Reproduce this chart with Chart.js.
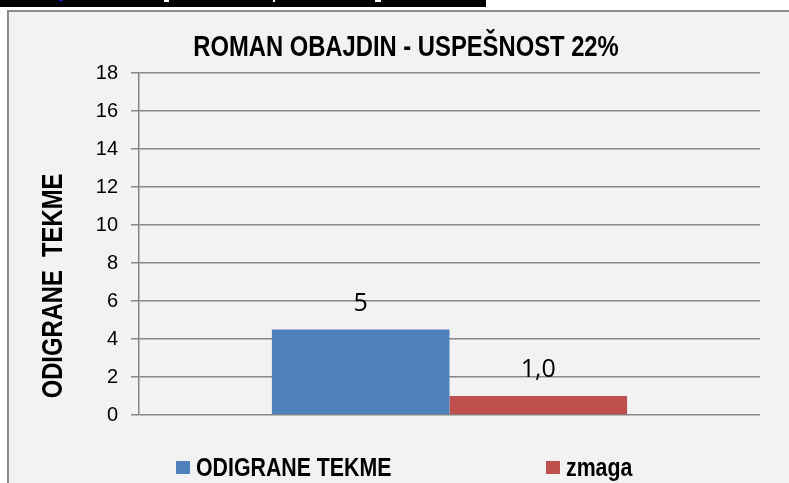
<!DOCTYPE html>
<html>
<head>
<meta charset="utf-8">
<script src="https://cdn.jsdelivr.net/npm/chart.js@4/dist/chart.umd.min.js"></script>
<style>
  html, body { margin: 0; padding: 0; background: #ffffff; overflow: hidden; }
  #wrap { position: relative; width: 789px; height: 483px; }
  #c { position: absolute; left: 0; top: 0; }
  .topbar { position: absolute; left: 0; top: 0; width: 486px; height: 7px; background: #000; }
  .gap { position: absolute; top: 0; height: 2px; background: #fff; }
  .blue { position: absolute; left: 59px; top: 0; width: 4px; height: 1px; background: #1a1aff; }
</style>
</head>
<body>
<div id="wrap">
  <canvas id="c" width="789" height="483"></canvas>
  <div class="topbar"></div>
  <div class="gap" style="left:164px;width:5px"></div>
  <div class="gap" style="left:273px;width:2px"></div>
  <div class="gap" style="left:375px;width:6px"></div>
  <div class="blue"></div>
</div>
<script>
// ---- data ----
const categories = [""];
const seriesNames = ["ODIGRANE TEKME", "zmaga"];
const playedValues = [4.5];
const winValues = [1.0];
const labelDecimals = [0, 1];
const yTicks = [0, 2, 4, 6, 8, 10, 12, 14, 16, 18];
const chartTitle = "ROMAN OBAJDIN - USPEŠNOST 22%";
const yAxisTitle = "ODIGRANE  TEKME";
const seriesColors = ["#4f81bd", "#c0504d"];

const SANS = "'Liberation Sans', Arial, sans-serif";
const NARROW = 0.82;   // horizontal squeeze to imitate a narrow face
const GRID = "#868686";

function narrowText(ctx, text, x, y, font, align, rot) {
  ctx.save();
  ctx.translate(x, y);
  if (rot) ctx.rotate(rot);
  ctx.scale(NARROW, 1);
  ctx.font = font;
  ctx.fillStyle = '#000';
  ctx.textAlign = align;
  ctx.textBaseline = 'alphabetic';
  ctx.fillText(text, 0, 0);
  ctx.restore();
}

const framePlugin = {
  id: 'frame',
  beforeDraw(chart) {
    const ctx = chart.ctx;
    ctx.save();
    ctx.fillStyle = '#ffffff';
    ctx.fillRect(0, 0, chart.width, chart.height);
    ctx.fillStyle = '#f2f2f2';
    ctx.fillRect(8, 11, chart.width - 8, chart.height - 11);
    ctx.strokeStyle = '#8a8a8a';
    ctx.lineWidth = 2;
    ctx.beginPath();
    ctx.moveTo(8, chart.height);
    ctx.lineTo(8, 11);
    ctx.lineTo(chart.width, 11);
    ctx.stroke();
    ctx.restore();
  }
};

const textPlugin = {
  id: 'texts',
  afterDraw(chart) {
    const ctx = chart.ctx;
    // chart title
    narrowText(ctx, chartTitle, 406, 56, "bold 29px " + SANS, 'center', 0);
    // y axis title
    narrowText(ctx, yAxisTitle, 62, 286, "bold 29px " + SANS, 'center', -Math.PI / 2);
    // legend
    const legX = [176, 546];
    seriesNames.forEach((name, i) => {
      ctx.save();
      ctx.fillStyle = seriesColors[i];
      ctx.fillRect(legX[i], 461, 14, 13);
      ctx.restore();
      narrowText(ctx, name, legX[i] + 20, 476, "bold 26px " + SANS, 'left', 0);
    });
  }
};

const valueLabelPlugin = {
  id: 'valueLabels',
  afterDatasetsDraw(chart) {
    const ctx = chart.ctx;
    ctx.save();
    ctx.font = "25px 'Open Sans', 'Noto Sans', sans-serif";
    ctx.fillStyle = '#000';
    ctx.textAlign = 'center';
    ctx.textBaseline = 'alphabetic';
    chart.data.datasets.forEach((ds, i) => {
      const meta = chart.getDatasetMeta(i);
      meta.data.forEach((bar, j) => {
        const txt = ds.data[j].toFixed(labelDecimals[i]).replace('.', ',');
        ctx.fillText(txt, bar.x, bar.y - 19);
      });
    });
    ctx.restore();
  }
};

const chart = new Chart(document.getElementById('c'), {
  type: 'bar',
  data: {
    labels: categories,
    datasets: [
      { label: seriesNames[0], data: playedValues, backgroundColor: seriesColors[0], borderWidth: 0 },
      { label: seriesNames[1], data: winValues, backgroundColor: seriesColors[1], borderWidth: 0 }
    ]
  },
  options: {
    responsive: false,
    animation: false,
    devicePixelRatio: 1,
    layout: { padding: { left: 52, right: 29, top: 73, bottom: 68 } },
    datasets: { bar: { categoryPercentage: 0.572, barPercentage: 1.0 } },
    plugins: {
      legend: { display: false },
      tooltip: { enabled: false },
      title: { display: false }
    },
    scales: {
      x: { display: false },
      y: {
        min: 0, max: 18,
        afterBuildTicks(scale) { scale.ticks = yTicks.map(v => ({ value: v })); },
        afterFit(scale) { scale.width = 87; },
        ticks: { color: '#000', padding: 13, font: { family: SANS, size: 20 } },
        grid: { color: GRID, lineWidth: 1.5, tickLength: 8, drawTicks: true },
        border: { display: true, color: GRID, width: 1.5 }
      }
    }
  },
  plugins: [framePlugin, textPlugin, valueLabelPlugin]
});
</script>
</body>
</html>
